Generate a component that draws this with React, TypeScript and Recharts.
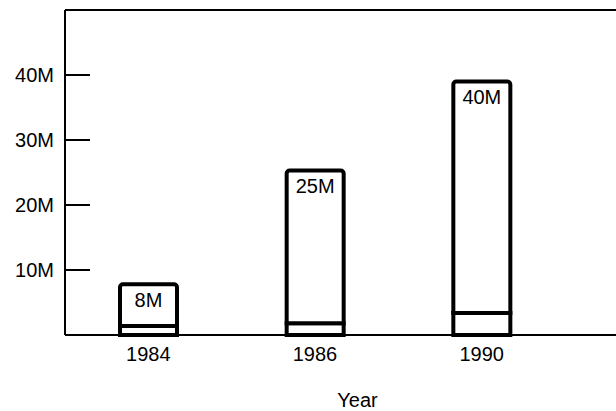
import React from 'react';
import { BarChart, Bar, XAxis, YAxis, ReferenceLine, LabelList, Label } from 'recharts';

const years = ['1984', '1986', '1990'];
const baseValues = [1.4, 1.8, 3.4];
const upperValues = [6.4, 23.5, 35.6];
const barLabels = ['8M', '25M', '40M'];
const yTicks = [10, 20, 30, 40];

const data = years.map((year, i) => ({
  year,
  base: baseValues[i],
  upper: upperValues[i],
  label: barLabels[i],
}));

const FONT = '"Liberation Sans", Arial, sans-serif';

const YTick = (props: any) => {
  const { x, y, payload } = props;
  return (
    <g>
      <line x1={x} y1={y} x2={x + 25} y2={y} stroke="#000" strokeWidth={2} />
      <text x={x - 11} y={y} dy="0.36em" textAnchor="end" fontSize={20} fontFamily={FONT} fill="#000">
        {payload.value}M
      </text>
    </g>
  );
};

const YearLabel = (props: any) => {
  const { viewBox } = props;
  return (
    <text
      x={viewBox.x + viewBox.width / 2 + 17}
      y={viewBox.y + viewBox.height - 4}
      textAnchor="middle"
      fontSize={20}
      fontFamily={FONT}
      fill="#000"
    >
      Year
    </text>
  );
};

export default function App() {
  return (
    <div style={{ position: 'absolute', left: 0, top: 0, background: '#fff' }}>
      <BarChart
        width={616}
        height={411}
        data={data}
        margin={{ top: 10, right: 0, bottom: 0, left: 0 }}
        barSize={57}
      >
        <XAxis
          dataKey="year"
          axisLine={{ stroke: '#000', strokeWidth: 2 }}
          tickLine={false}
          tickSize={0}
          tickMargin={12}
          height={76}
          padding={{ left: 0, right: 51 }}
          tick={{ fontSize: 20, fontFamily: FONT, fill: '#000' }}
        >
          <Label content={<YearLabel />} />
        </XAxis>
        <YAxis
          domain={[0, 50]}
          ticks={yTicks}
          width={65}
          axisLine={{ stroke: '#000', strokeWidth: 2 }}
          tickLine={false}
          tickSize={0}
          tickMargin={0}
          tick={<YTick />}
        />
        <ReferenceLine y={50} stroke="#000" strokeWidth={2} />
        <Bar dataKey="base" stackId="a" fill="#fff" stroke="#000" strokeWidth={4} isAnimationActive={false} />
        <Bar
          dataKey="upper"
          stackId="a"
          fill="#fff"
          stroke="#000"
          strokeWidth={4}
          radius={[3, 3, 0, 0]}
          isAnimationActive={false}
        >
          <LabelList
            dataKey="label"
            position="insideTop"
            offset={8}
            fontSize={20}
            fontFamily={FONT}
            fill="#000"
          />
        </Bar>
      </BarChart>
    </div>
  );
}
